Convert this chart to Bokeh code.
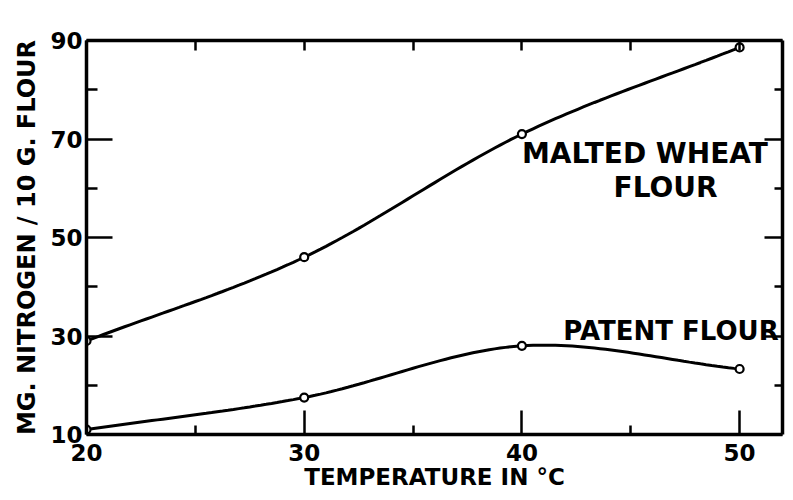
import numpy as np
from bokeh.plotting import figure
from bokeh.models import FixedTicker, LinearAxis, Label, Range1d, ColumnDataSource
from bokeh.embed import file_html
from bokeh.resources import INLINE

# ---- data ----
temperature = [20, 30, 40, 50]
malted_wheat = [29.0, 46.0, 71.0, 88.6]
patent_flour = [11.0, 17.5, 28.0, 23.3]

x_major = [20, 30, 40, 50]
x_minor = [25, 35, 45]
y_major = [10, 30, 50, 70, 90]
y_minor = [20, 40, 60, 80]

FONT = "DejaVu Sans"


def smooth(xs, ys, n=40):
    """Catmull-Rom spline through the given points (drawing only)."""
    xs = np.asarray(xs, float)
    ys = np.asarray(ys, float)
    px = np.concatenate([[2 * xs[0] - xs[1]], xs, [2 * xs[-1] - xs[-2]]])
    py = np.concatenate([[2 * ys[0] - ys[1]], ys, [2 * ys[-1] - ys[-2]]])
    out_x, out_y = [], []
    for i in range(1, len(px) - 2):
        t = np.linspace(0, 1, n, endpoint=(i == len(px) - 3))
        t2, t3 = t * t, t * t * t
        for arr, out in ((px, out_x), (py, out_y)):
            p0, p1, p2, p3 = arr[i - 1], arr[i], arr[i + 1], arr[i + 2]
            out.extend(0.5 * ((2 * p1) + (-p0 + p2) * t
                              + (2 * p0 - 5 * p1 + 4 * p2 - p3) * t2
                              + (-p0 + 3 * p1 - 3 * p2 + p3) * t3))
    return out_x, out_y


p = figure(width=785, height=492, output_backend="svg", toolbar_location=None,
           x_range=Range1d(20, 51.97), y_range=Range1d(10, 90),
           min_border_left=86, min_border_top=40, min_border_bottom=55,
           min_border_right=3, x_axis_location=None, y_axis_location=None)
p.outline_line_color = None
p.xgrid.visible = False
p.ygrid.visible = False
p.background_fill_color = "white"
p.border_fill_color = "white"


def style_axis(ax, major_in, minor_in, labels=True):
    ax.axis_line_width = 3.5
    ax.axis_line_color = "black"
    ax.major_tick_in = major_in
    ax.major_tick_out = 0
    ax.minor_tick_in = minor_in
    ax.minor_tick_out = 0
    ax.major_tick_line_width = 2.5
    ax.minor_tick_line_width = 2.5
    ax.major_tick_line_color = "black"
    ax.minor_tick_line_color = "black"
    ax.major_label_text_font = FONT
    ax.major_label_text_font_style = "bold"
    ax.major_label_text_color = "black"
    ax.axis_label_text_color = "black"
    if labels:
        ax.major_label_text_font_size = "23px"
    else:
        ax.major_label_text_font_size = "0px"
        ax.major_label_standoff = 0


xt = FixedTicker(ticks=x_major, minor_ticks=x_minor)
yt = FixedTicker(ticks=y_major, minor_ticks=y_minor)

bottom = LinearAxis(ticker=xt, axis_label="TEMPERATURE IN °C")
style_axis(bottom, 24, 9)
bottom.major_label_standoff = 9
bottom.axis_label_text_font = FONT
bottom.axis_label_text_font_style = "bold"
bottom.axis_label_text_font_size = "23px"
bottom.axis_label_standoff = 0
p.add_layout(bottom, "below")

left = LinearAxis(ticker=yt, axis_label="MG. NITROGEN / 10 G. FLOUR")
style_axis(left, 26, 11)
left.major_label_standoff = 4
left.axis_label_text_font = FONT
left.axis_label_text_font_style = "bold"
left.axis_label_text_font_size = "24px"
left.axis_label_standoff = 6
p.add_layout(left, "left")

top = LinearAxis(ticker=FixedTicker(ticks=x_major, minor_ticks=x_minor))
style_axis(top, 10, 10, labels=False)
p.add_layout(top, "above")

right = LinearAxis(ticker=FixedTicker(ticks=y_major, minor_ticks=y_minor))
style_axis(right, 18, 8, labels=False)
p.add_layout(right, "right")

for ys in (malted_wheat, patent_flour):
    sx, sy = smooth(temperature, ys)
    p.line(sx, sy, line_color="black", line_width=3)
    src = ColumnDataSource(dict(x=temperature, y=ys))
    p.scatter("x", "y", source=src, size=8, fill_color="white",
              line_color="black", line_width=2.2)

label_kw = dict(text_font=FONT, text_font_style="bold", text_color="black")
p.add_layout(Label(x=40.0, y=63.7, text="MALTED  WHEAT", text_font_size="28px", **label_kw))
p.add_layout(Label(x=46.6, y=56.9, text="FLOUR", text_align="center",
                   text_font_size="28px", **label_kw))
p.add_layout(Label(x=41.9, y=28.0, text="PATENT FLOUR", text_font_size="26px", **label_kw))

open("out.html", "w").write(file_html(p, INLINE))
